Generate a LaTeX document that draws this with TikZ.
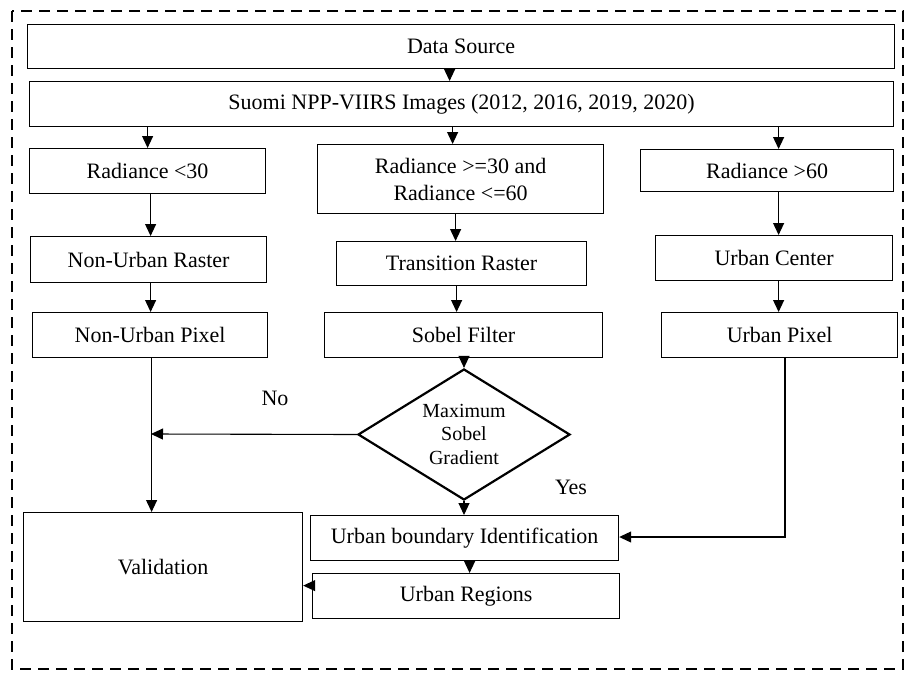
\documentclass[tikz,border=0pt]{standalone}
\usepackage{fontspec}
\setmainfont{Liberation Serif}
\usetikzlibrary{arrows.meta,shapes.geometric}
\begin{document}
\begin{tikzpicture}[x=1pt,y=-1pt,
  box/.style={draw,line width=1.2pt,anchor=north west,inner sep=0pt,align=center,font=\fontsize{22}{27}\selectfont},
  arr/.style={line width=1.1pt,-{Triangle[length=12pt,width=11pt]}},
  lbl/.style={font=\fontsize{22}{27}\selectfont},
  frame/.style={line width=2.6pt,dash pattern=on 11pt off 7pt}]
\useasboundingbox (0,0) rectangle (907,672);
\draw[frame] (12,11) rectangle (903,669);
\node[box,minimum width=867pt,minimum height=44pt] (ds) at (27,24) {Data Source};
\node[box,minimum width=864pt,minimum height=45pt] (suomi) at (29,81) {Suomi NPP-VIIRS Images (2012, 2016, 2019, 2020)};
\node[box,minimum width=236pt,minimum height=45pt] (r1) at (29,148) {Radiance <30};
\node[box,minimum width=286pt,minimum height=69pt] (r2) at (317,144) {Radiance >=30 and\\Radiance <=60};
\node[box,minimum width=253pt,minimum height=42pt] (r3) at (640,149) {Radiance >60};
\node[box,minimum width=236pt,minimum height=46pt] (nur) at (30,236) {Non-Urban Raster};
\node[box,minimum width=250pt,minimum height=44pt] (tr) at (336,241) {Transition Raster};
\node[box,minimum width=237pt,minimum height=45pt] (uc) at (655,235) {Urban Center};
\node[box,minimum width=235pt,minimum height=45pt] (nup) at (32,312) {Non-Urban Pixel};
\node[box,minimum width=278pt,minimum height=45pt] (sf) at (324,312) {Sobel Filter};
\node[box,minimum width=236pt,minimum height=45pt] (up) at (661,312) {Urban Pixel};
\node[draw,diamond,line width=2.2pt,minimum width=212pt,minimum height=131pt,inner sep=0pt] (dm) at (464,434.5) {};
\node[font=\fontsize{20}{23.5}\selectfont,align=center] (dmt) at (464,434) {Maximum\\Sobel\\Gradient};
\node[box,minimum width=279pt,minimum height=109pt] (val) at (23,512) {Validation};
\node[box,minimum width=308pt,minimum height=45pt] (ubi) at (310,515) {Urban boundary Identification};
\node[box,minimum width=307pt,minimum height=45pt] (ureg) at (312,573) {Urban Regions};
\node[lbl] (no) at (275,398) {No};
\node[lbl] (yes) at (571,487) {Yes};
% connectors
\draw[arr] ([xshift=-11.5]ds.south) -- ([xshift=-11.5]ds.south |- suomi.north);
\draw[arr] (suomi.south -| r1.north) -- (r1.north);
\draw[arr] ([xshift=-8]r2.north |- suomi.south) -- ([xshift=-8]r2.north);
\draw[arr] ([xshift=11.5]r3.north |- suomi.south) -- ([xshift=11.5]r3.north);
\draw[arr] ([xshift=3]r1.south) -- ([xshift=3]r1.south |- nur.north);
\draw[arr] ([xshift=-5]r2.south) -- ([xshift=-5]r2.south |- tr.north);
\draw[arr] ([xshift=11.5]r3.south) -- ([xshift=11.5]r3.south |- uc.north);
\draw[arr] ([xshift=2]nur.south) -- ([xshift=2]nur.south |- nup.north);
\draw[arr] ([xshift=-5]tr.south) -- ([xshift=-5]tr.south |- sf.north);
\draw[arr] ([xshift=4.5]uc.south) -- ([xshift=4.5]uc.south |- up.north);
\draw[arr] (sf.south -| dm.north) -- (dm.north);
\coordinate (noend) at (151,434);
\draw[arr] (dm.west) -- (noend);
\draw[arr] ([xshift=1.5]nup.south) -- ([xshift=1.5]nup.south |- val.north);
\draw[arr] (dm.south) -- (dm.south |- ubi.north);
\coordinate (upbend) at (785,537);
\draw[arr] (up.south -| upbend) -- (upbend) -- (upbend -| ubi.east);
\draw[arr] ([xshift=5]ubi.south) -- ([xshift=5]ubi.south |- ureg.north);
\draw[arr] ([yshift=10.5]ureg.west) -- ([yshift=10.5]ureg.west -| val.east);
\end{tikzpicture}
\end{document}
